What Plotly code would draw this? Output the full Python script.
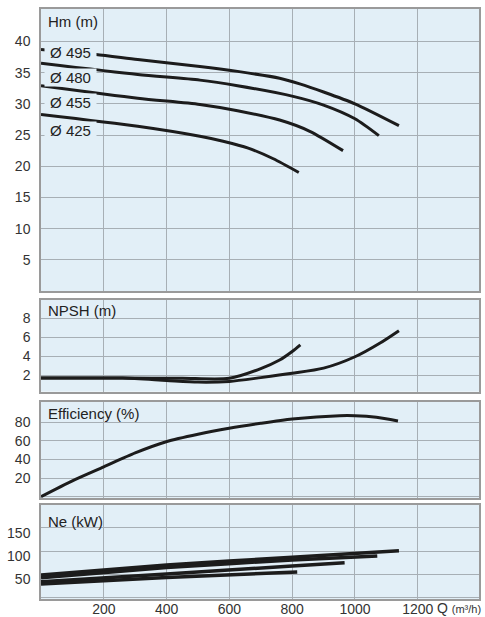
import plotly.graph_objects as go
from plotly.subplots import make_subplots

# pump curves, Q in m3/h
q_495 = [0, 175, 308, 506, 626, 760, 824, 900, 1000, 1140]
hm_495 = [38.7, 37.9, 37.1, 36.0, 35.2, 34.1, 33.2, 31.9, 30.0, 26.5]
q_480 = [0, 308, 506, 626, 803, 900, 1000, 1076]
hm_480 = [36.5, 34.7, 33.8, 32.9, 31.2, 29.8, 27.6, 24.9]
q_455 = [0, 308, 506, 626, 760, 856, 962]
hm_455 = [32.9, 30.9, 29.9, 28.9, 27.4, 25.6, 22.5]
q_425 = [0, 308, 506, 580, 660, 740, 821]
hm_425 = [28.3, 26.4, 24.8, 24.0, 22.9, 21.2, 19.0]
diam_labels = ['Ø 495', 'Ø 480', 'Ø 455', 'Ø 425']
diam_label_hm = [38.15, 34.27, 30.26, 25.7]

q_npsh_a = [0, 260, 450, 600, 700, 760, 800, 826]
npsh_a = [1.7, 1.7, 1.68, 1.68, 2.7, 3.6, 4.5, 5.2]
q_npsh_b = [0, 260, 400, 500, 600, 700, 800, 900, 1000, 1080, 1140]
npsh_b = [1.7, 1.7, 1.45, 1.28, 1.35, 1.75, 2.2, 2.75, 3.95, 5.4, 6.7]

q_eff = [0, 100, 200, 300, 399, 500, 599, 700, 800, 951, 1000, 1068, 1137]
eff = [0, 17, 32, 47, 59, 67, 73.4, 78.8, 83.4, 87, 87, 85.3, 81.3]

q_ne = [[0, 400, 800, 1140], [0, 400, 800, 1071], [0, 400, 800, 967], [0, 400, 816]]
ne = [[48.3, 69.9, 86.5, 101], [42.5, 64.5, 80.7, 89.4], [33.8, 50.4, 67.7, 75], [28.8, 43.1, 54.8]]

x_ticks = [200, 400, 600, 800, 1000, 1200]

BG = '#e2eff7'
GRID = '#a7afb5'
BORDER = '#9a9a9a'
INK = '#1c1c1c'
FONT = 'Liberation Sans, Arial, sans-serif'

fig = make_subplots(rows=4, cols=1, shared_xaxes=True, vertical_spacing=0.02)

line_style = dict(color=INK, width=3, shape='spline', smoothing=0.7)

for q, h in [(q_495, hm_495), (q_480, hm_480), (q_455, hm_455), (q_425, hm_425)]:
    fig.add_trace(go.Scatter(x=q, y=h, mode='lines', line=line_style), row=1, col=1)

for q, n in [(q_npsh_a, npsh_a), (q_npsh_b, npsh_b)]:
    fig.add_trace(go.Scatter(x=q, y=n, mode='lines', line=line_style), row=2, col=1)

fig.add_trace(go.Scatter(x=q_eff, y=eff, mode='lines', line=line_style), row=3, col=1)

for q, n in zip(q_ne, ne):
    fig.add_trace(go.Scatter(x=q, y=n, mode='lines', line=dict(color=INK, width=3.5, shape='spline', smoothing=0.5)), row=4, col=1)

fig.update_xaxes(range=[0, 1395], tickvals=x_ticks, showgrid=True, gridcolor=GRID, gridwidth=1,
                 zeroline=False, showline=True, mirror=True, linecolor=BORDER, linewidth=1.5,
                 ticks='', ticklabelstandoff=-4, automargin=False,
                 tickfont=dict(size=14, color='#333', family=FONT))
fig.update_yaxes(showgrid=True, gridcolor=GRID, gridwidth=1, zeroline=True, zerolinecolor=GRID,
                 zerolinewidth=1, showline=True, mirror=True, linecolor=BORDER, linewidth=1.5,
                 ticks='', ticklabelstandoff=6, automargin=False,
                 tickfont=dict(size=14, color='#333', family=FONT))

fig.update_layout(
    width=485, height=617,
    margin=dict(l=41, r=6, t=9, b=18),
    paper_bgcolor='white', plot_bgcolor=BG,
    showlegend=False,
    font=dict(family=FONT, color='#222'),
    yaxis=dict(domain=[0.522, 1.0], range=[0, 45.2], tickvals=[5, 10, 15, 20, 25, 30, 35, 40]),
    yaxis2=dict(domain=[0.3514, 0.5073], range=[0.27, 9.96], tickvals=[2, 4, 6, 8]),
    yaxis3=dict(domain=[0.1707, 0.3344], range=[-1.8, 102], tickvals=[20, 40, 60, 80]),
    yaxis4=dict(domain=[0, 0.1598], range=[-3.7, 200.4], tickvals=[50, 100, 150], ticklabelshift=5),
)

titles = [('Hm (m)', 0.9785), ('NPSH (m)', 0.4898), ('Efficiency (%)', 0.3147), ('Ne (kW)', 0.1322)]
for t, yp in titles:
    fig.add_annotation(text=t, xref='paper', yref='paper', x=0.012, y=yp, xanchor='left', yanchor='middle',
                       showarrow=False, font=dict(size=15, color='#222', family=FONT))

for lab, h in zip(diam_labels, diam_label_hm):
    fig.add_annotation(text=lab, xref='x', yref='y', x=8.6, y=h, xanchor='left', yanchor='middle',
                       width=51, align='center', showarrow=False, bgcolor=BG, borderpad=0,
                       font=dict(size=15, color='#222', family=FONT))

fig.add_annotation(text="Q <span style='font-size:11px'>(m³/h)</span>", xref='x4', yref='paper',
                   x=1255, y=-0.0153, xanchor='left', yanchor='middle', showarrow=False,
                   font=dict(size=14, color='#333', family=FONT))

fig.write_html("out.html", post_script="document.body.style.margin='0';",
               config={'displayModeBar': False})
